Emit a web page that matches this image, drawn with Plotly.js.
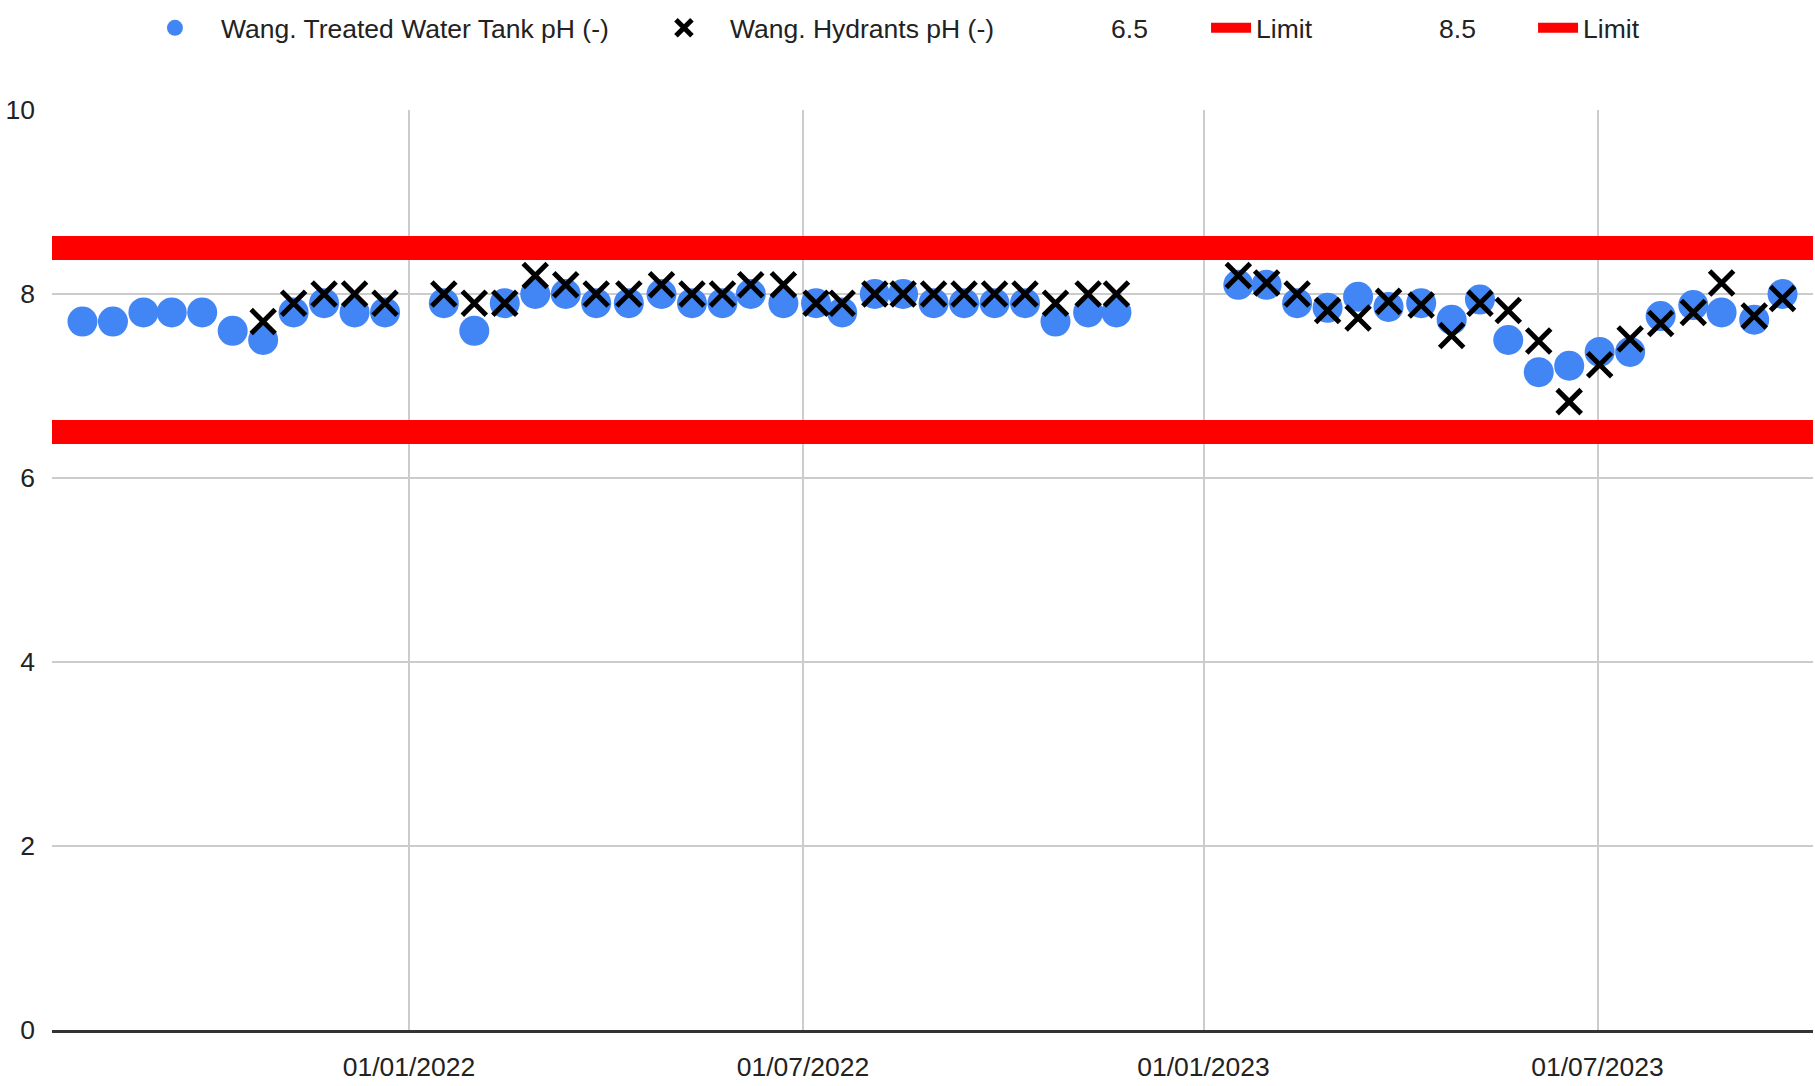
<!DOCTYPE html>
<html>
<head>
<meta charset="utf-8">
<script src="https://cdn.plot.ly/plotly-3.0.1.min.js"></script>
<style>html,body{margin:0;padding:0;background:#fff;}#chart{width:1815px;height:1086px;}</style>
</head>
<body>
<div id="chart"></div>
<script>
// ---- data ----
const sampleDates = [
  "2021-08-04","2021-08-18","2021-09-01","2021-09-14","2021-09-28","2021-10-12","2021-10-26","2021-11-09","2021-11-23","2021-12-07","2021-12-21",
  "2022-01-17","2022-01-31","2022-02-14","2022-02-28","2022-03-14","2022-03-28","2022-04-12","2022-04-27","2022-05-11","2022-05-25","2022-06-07","2022-06-22","2022-07-07","2022-07-19","2022-08-03","2022-08-16","2022-08-30","2022-09-13","2022-09-27","2022-10-11","2022-10-25","2022-11-09","2022-11-22",
  "2023-01-17","2023-01-30","2023-02-13","2023-02-27","2023-03-13","2023-03-27","2023-04-11","2023-04-25","2023-05-08","2023-05-21","2023-06-04","2023-06-18","2023-07-02","2023-07-16","2023-07-30","2023-08-14","2023-08-27","2023-09-11","2023-09-24"
];
const tankPH = [
  7.7, 7.7, 7.8, 7.8, 7.8, 7.6, 7.5, 7.8, 7.9, 7.8, 7.8,
  7.9, 7.6, 7.9, 8.0, 8.0, 7.9, 7.9, 8.0, 7.9, 7.9, 8.0, 7.9, 7.9, 7.8, 8.0, 8.0, 7.9, 7.9, 7.9, 7.9, 7.7, 7.8, 7.8,
  8.1, 8.1, 7.9, 7.85, 7.97, 7.86, 7.9, 7.72, 7.94, 7.5, 7.15, 7.22, 7.37, 7.37, 7.76, 7.88, 7.8, 7.72, 8.0
];
const hydrantPH = [
  null, null, null, null, null, null, 7.7, 7.9, 8.0, 8.0, 7.9,
  8.0, 7.9, 7.9, 8.2, 8.1, 8.0, 8.0, 8.1, 8.0, 8.0, 8.1, 8.1, 7.9, 7.9, 8.0, 8.0, 8.0, 8.0, 8.0, 8.0, 7.9, 8.0, 8.0,
  8.2, 8.12, 8.0, 7.82, 7.74, 7.92, 7.88, 7.55, 7.9, 7.82, 7.49, 6.83, 7.23, 7.51, 7.68, 7.8, 8.12, 7.76, 7.95
];
const limitDates = ["2021-07-21", "2023-10-08"];
const lowerLimit = [6.5, 6.5];
const upperLimit = [8.5, 8.5];
const xTickDates = ["2022-01-01", "2022-07-01", "2023-01-01", "2023-07-01"];
const seriesNames = ["Wang. Treated Water Tank pH (-)", "Wang. Hydrants pH (-)", "6.5", "Limit", "8.5", "Limit"];

// ---- chart ----
const FONT = "'Liberation Sans', Arial, sans-serif";
const FS = 26.5;
const traces = [
  {
    type: "scatter", mode: "markers", name: seriesNames[0],
    x: sampleDates, y: tankPH,
    marker: {color: "#4285F4", size: 30, line: {width: 0}},
    legend: "legend", legendwidth: 412
  },
  {
    type: "scatter", mode: "markers", name: seriesNames[1],
    x: sampleDates, y: hydrantPH,
    marker: {color: "#000000", size: 24, symbol: "x-thin-open", line: {color: "#000000", width: 5}},
    legend: "legend"
  },
  {
    type: "scatter", mode: "none", name: seriesNames[2],
    x: limitDates, y: lowerLimit, hoverinfo: "skip",
    legend: "legend2", legendwidth: 90
  },
  {
    type: "scatter", mode: "lines", name: seriesNames[3],
    x: limitDates, y: lowerLimit,
    line: {color: "#ff0000", width: 24},
    legend: "legend2", legendwidth: 128
  },
  {
    type: "scatter", mode: "none", name: seriesNames[4],
    x: limitDates, y: upperLimit, hoverinfo: "skip",
    legend: "legend2", legendwidth: 89
  },
  {
    type: "scatter", mode: "lines", name: seriesNames[5],
    x: limitDates, y: upperLimit,
    line: {color: "#ff0000", width: 24},
    legend: "legend2"
  }
];

const legendFont = {family: FONT, size: FS, color: "#222222"};
const layout = {
  width: 1815, height: 1086,
  margin: {l: 52, r: 2, t: 110, b: 56, pad: 0},
  paper_bgcolor: "#ffffff", plot_bgcolor: "#ffffff",
  font: {family: FONT, size: FS, color: "#222222"},
  showlegend: true,
  legend: {
    orientation: "h", x: 0.0437, xanchor: "left", y: 1.089, yanchor: "middle",
    font: legendFont, itemwidth: 82, bgcolor: "rgba(0,0,0,0)", borderwidth: 0,
    traceorder: "normal"
  },
  legend2: {
    orientation: "h", x: 0.5730, xanchor: "left", y: 1.089, yanchor: "middle",
    font: legendFont, itemwidth: 40, bgcolor: "rgba(0,0,0,0)", borderwidth: 0,
    traceorder: "normal"
  },
  xaxis: {
    type: "date",
    range: [limitDates[0], limitDates[1]],
    tickmode: "array", tickvals: xTickDates, tickformat: "%d/%m/%Y",
    showgrid: true, gridcolor: "#cccccc", gridwidth: 2,
    showline: true, linecolor: "#333333", linewidth: 3,
    zeroline: false, ticks: "", ticklabelstandoff: 11,
    tickfont: {family: FONT, size: FS, color: "#222222"}
  },
  yaxis: {
    range: [0, 10], dtick: 2, tick0: 0,
    showgrid: true, gridcolor: "#cccccc", gridwidth: 2,
    zeroline: false, showline: false, ticks: "", ticklabelstandoff: 16,
    tickfont: {family: FONT, size: FS, color: "#222222"}
  },
  hovermode: false
};

Plotly.newPlot("chart", traces, layout, {displayModeBar: false, staticPlot: true});
</script>
</body>
</html>
